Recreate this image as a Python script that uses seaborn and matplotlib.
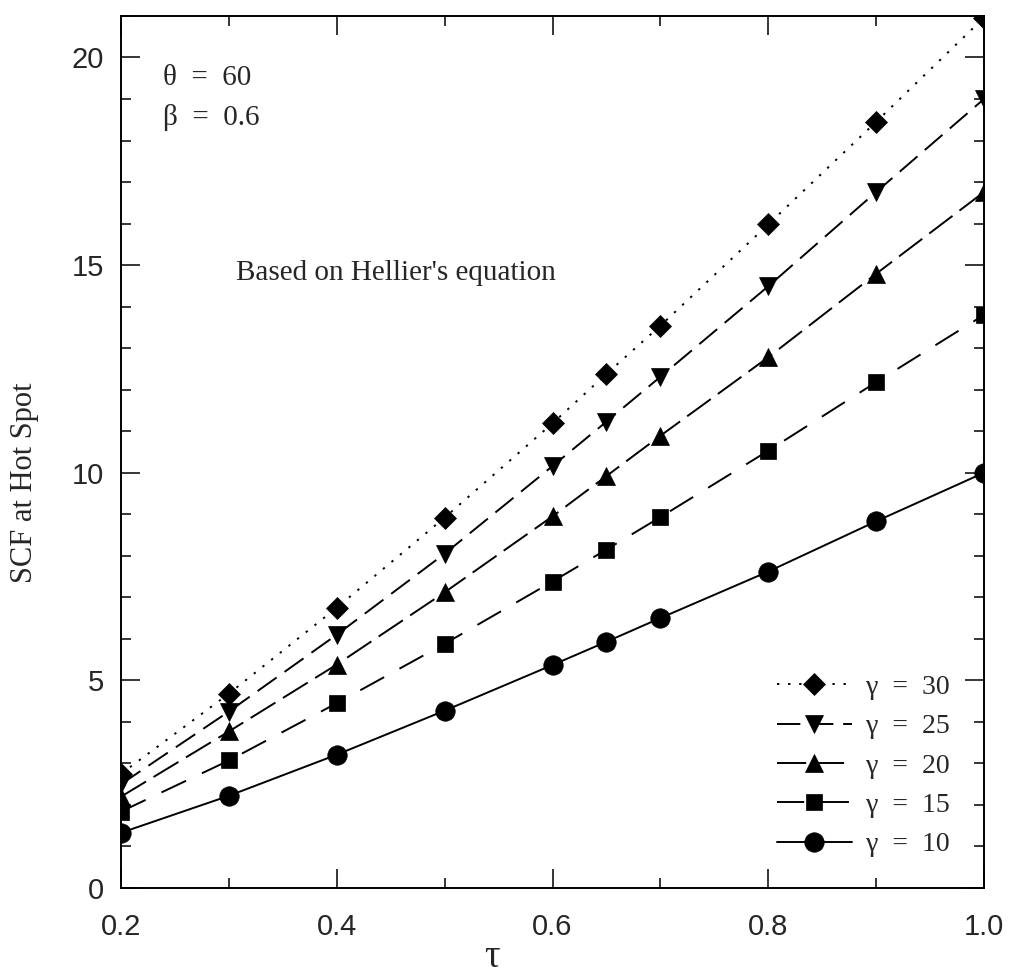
import numpy as np
import pandas as pd
import matplotlib
matplotlib.use("Agg")
import matplotlib.pyplot as plt
from matplotlib.ticker import MultipleLocator, FixedLocator
import seaborn as sns

# ---- data ----
tau = [0.2, 0.3, 0.4, 0.5, 0.6, 0.65, 0.7, 0.8, 0.9, 1.0]
scf_g30 = [2.75, 4.68, 6.75, 8.92, 11.19, 12.38, 13.54, 15.98, 18.45, 20.96]
scf_g25 = [2.50, 4.25, 6.10, 8.05, 10.16, 11.23, 12.31, 14.49, 16.76, 19.00]
scf_g20 = [2.20, 3.77, 5.38, 7.12, 8.95, 9.92, 10.89, 12.78, 14.79, 16.76]
scf_g15 = [1.84, 3.07, 4.45, 5.88, 7.38, 8.15, 8.93, 10.53, 12.18, 13.80]
scf_g10 = [1.33, 2.22, 3.21, 4.27, 5.37, 5.93, 6.50, 7.62, 8.83, 10.00]
series_labels = ["γ  =  30", "γ  =  25", "γ  =  20", "γ  =  15", "γ  =  10"]
x_tick_labels = ["0.2", "0.4", "0.6", "0.8", "1.0"]
y_tick_labels = ["0", "5", "10", "15", "20"]

sns.set_style("ticks")
plt.rcParams["font.family"] = ["Liberation Sans", "DejaVu Sans"]
SERIF = ["Liberation Serif", "DejaVu Serif"]

fig = plt.figure(figsize=(10.12, 9.8), dpi=100)
ax = fig.add_axes([0.1196, 0.0939, 0.8527, 0.8898])

series = [scf_g30, scf_g25, scf_g20, scf_g15, scf_g10]
markers = ["D", "v", "^", "s", "o"]
msizes = [11, 13.5, 13.5, 12, 14]
styles = [(0, (1.2, 4.5)), (0, (12, 5)), (0, (15, 4.5)), (0, (14, 9)), "-"]

for vals, lab, mk, ms, ls in zip(series, series_labels, markers, msizes, styles):
    df = pd.DataFrame({"tau": tau, "scf": vals})
    sns.lineplot(data=df, x="tau", y="scf", ax=ax, color="black",
                 marker=mk, markersize=ms, markeredgecolor="black",
                 markerfacecolor="black", markeredgewidth=0.5,
                 linewidth=1.4, linestyle=ls, label=lab, sort=False)

ax.set_xlim(0.2, 1.0)
ax.set_ylim(0, 21)

ax.xaxis.set_major_locator(FixedLocator([0.2, 0.4, 0.6, 0.8, 1.0]))
ax.xaxis.set_minor_locator(MultipleLocator(0.1))
ax.set_xticklabels(x_tick_labels)
ax.yaxis.set_major_locator(FixedLocator([0, 5, 10, 15, 20]))
ax.yaxis.set_minor_locator(MultipleLocator(1))
ax.set_yticklabels(y_tick_labels)

ax.tick_params(which="both", direction="in", top=True, right=True, width=1.1, color="black")
ax.tick_params(which="major", length=14)
ax.tick_params(which="minor", length=7)
ax.tick_params(axis="x", which="major", labelsize=21, pad=18)
ax.tick_params(axis="y", which="major", labelsize=21, pad=12)

for sp in ax.spines.values():
    sp.set_linewidth(1.4)
    sp.set_color("black")
    sp.set_visible(True)

ax.set_xlabel("τ", fontsize=28, family=SERIF)
ax.xaxis.set_label_coords(0.43, -0.058)
ax.set_ylabel("SCF at Hot Spot", fontsize=22, family=SERIF)
ax.yaxis.set_label_coords(-0.095, 0.465)

ax.text(0.0487, 0.929, "θ  =  60", transform=ax.transAxes, fontsize=21,
        family=SERIF, va="center", ha="left")
ax.text(0.0487, 0.883, "β  =  0.6", transform=ax.transAxes, fontsize=21,
        family=SERIF, va="center", ha="left")
ax.text(0.133, 0.705, "Based on Hellier's equation", transform=ax.transAxes,
        fontsize=21, family=SERIF, va="center", ha="left")

leg = ax.legend(loc="lower right", bbox_to_anchor=(0.96, 0.035), frameon=False,
                handlelength=2.7, handletextpad=0.5, labelspacing=0.5,
                borderpad=0, borderaxespad=0, prop={"family": SERIF, "size": 20})

fig.savefig("out.png", dpi=100)
